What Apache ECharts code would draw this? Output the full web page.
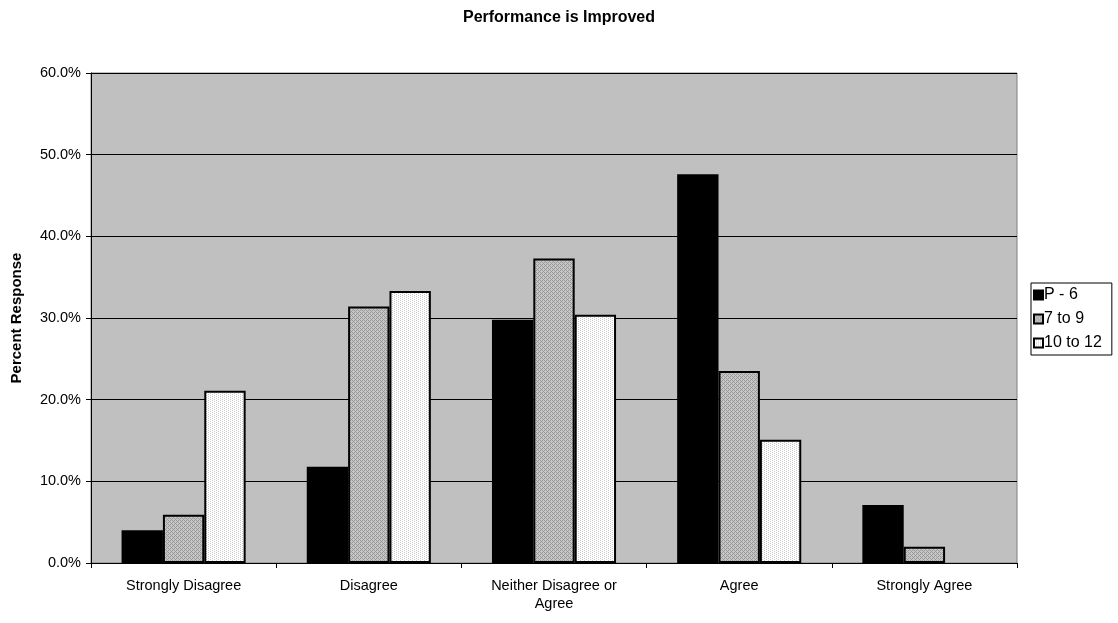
<!DOCTYPE html>
<html>
<head>
<meta charset="utf-8">
<script src="https://cdn.jsdelivr.net/npm/echarts@6/dist/echarts.min.js"></script>
<style>
  html, body { margin: 0; padding: 0; background: #ffffff; }
  #chart { width: 1118px; height: 623px; }
</style>
</head>
<body>
<div id="chart"></div>
<script>
// Response categories and percent of respondents per grade band
const categories = ['Strongly Disagree', 'Disagree', 'Neither Disagree or\nAgree', 'Agree', 'Strongly Agree'];
const seriesNames = ['P - 6', '7 to 9', '10 to 12'];
const gradeP6 = [4.0, 11.8, 29.8, 47.6, 7.1];
const grade7to9 = [5.9, 31.4, 37.3, 23.5, 2.0];
const grade10to12 = [21.1, 33.3, 30.4, 15.1, 0];
const yTicks = [0, 10, 20, 30, 40, 50, 60];

const FONT = 'Liberation Sans, Arial, sans-serif';

// Small tiled canvases used as fill patterns
function makePattern(bg, fg, cells) {
  const c = document.createElement('canvas');
  c.width = 4; c.height = 4;
  const ctx = c.getContext('2d');
  ctx.fillStyle = bg;
  ctx.fillRect(0, 0, 4, 4);
  ctx.fillStyle = fg;
  cells.forEach(p => ctx.fillRect(p[0], p[1], 1, 1));
  return { image: c, repeat: 'repeat' };
}
const hatchFill = makePattern('#c6c6c6', '#9a9a9a', [[0, 0], [1, 1], [2, 2], [3, 3], [2, 0], [0, 2]]);
const dotFill = makePattern('#ffffff', '#c8c8c8', [[0, 0], [0, 2], [2, 1], [2, 3]]);

// Zero-height bars get no outline so nothing shows along the axis
function barData(values) {
  return values.map(v => (v === 0 ? { value: v, itemStyle: { borderWidth: 0 } } : v));
}

const chart = echarts.init(document.getElementById('chart'), null, { renderer: 'canvas' });

const barBase = {
  type: 'bar',
  barGap: '0%',
  barCategoryGap: '33%',
  animation: false
};

chart.setOption({
  animation: false,
  backgroundColor: '#ffffff',
  title: {
    text: 'Performance is Improved',
    left: 'center',
    top: 5,
    textStyle: { fontFamily: FONT, fontSize: 16, fontWeight: 'bold', color: '#000' }
  },
  legend: {
    orient: 'vertical',
    left: 1031,
    top: 283,
    padding: [4, 10, 4, 2],
    itemGap: 8,
    itemWidth: 9,
    itemHeight: 9,
    borderColor: '#000',
    borderWidth: 1,
    backgroundColor: '#ffffff',
    data: seriesNames.map(n => ({ name: n, icon: 'rect' })),
    textStyle: { fontFamily: FONT, fontSize: 16, color: '#000', lineHeight: 16, padding: [0, 0, 0, -4] }
  },
  grid: {
    left: 91,
    right: 101,
    top: 73,
    bottom: 60,
    containLabel: false,
    outerBoundsMode: 'none',
    show: true,
    backgroundColor: '#c0c0c0',
    borderColor: '#808080',
    borderWidth: 1
  },
  xAxis: {
    type: 'category',
    data: categories,
    axisLine: { show: true, lineStyle: { color: '#000', width: 1 } },
    axisTick: { show: true, inside: false, length: 5, alignWithLabel: false, lineStyle: { color: '#000' } },
    axisLabel: {
      interval: 0,
      margin: 14,
      fontFamily: FONT,
      fontSize: 14.5,
      lineHeight: 18,
      color: '#000'
    }
  },
  yAxis: {
    type: 'value',
    min: yTicks[0],
    max: yTicks[yTicks.length - 1],
    interval: 10,
    name: 'Percent Response',
    nameLocation: 'middle',
    nameGap: 67,
    nameTextStyle: { fontFamily: FONT, fontSize: 15, fontWeight: 'bold', color: '#000' },
    axisLine: { show: true, lineStyle: { color: '#000', width: 1 } },
    axisTick: { show: true, length: 5, lineStyle: { color: '#000' } },
    splitLine: { show: true, lineStyle: { color: '#000', width: 1 } },
    axisLabel: {
      margin: 10,
      fontFamily: FONT,
      fontSize: 14.5,
      color: '#000',
      formatter: v => v.toFixed(1) + '%'
    }
  },
  series: [
    Object.assign({}, barBase, {
      name: seriesNames[0],
      data: barData(gradeP6),
      itemStyle: { color: '#000000', borderColor: '#000', borderWidth: 2 }
    }),
    Object.assign({}, barBase, {
      name: seriesNames[1],
      data: barData(grade7to9),
      itemStyle: { color: hatchFill, borderColor: '#000', borderWidth: 2 }
    }),
    Object.assign({}, barBase, {
      name: seriesNames[2],
      data: barData(grade10to12),
      itemStyle: { color: dotFill, borderColor: '#000', borderWidth: 2 }
    })
  ]
});
</script>
</body>
</html>
